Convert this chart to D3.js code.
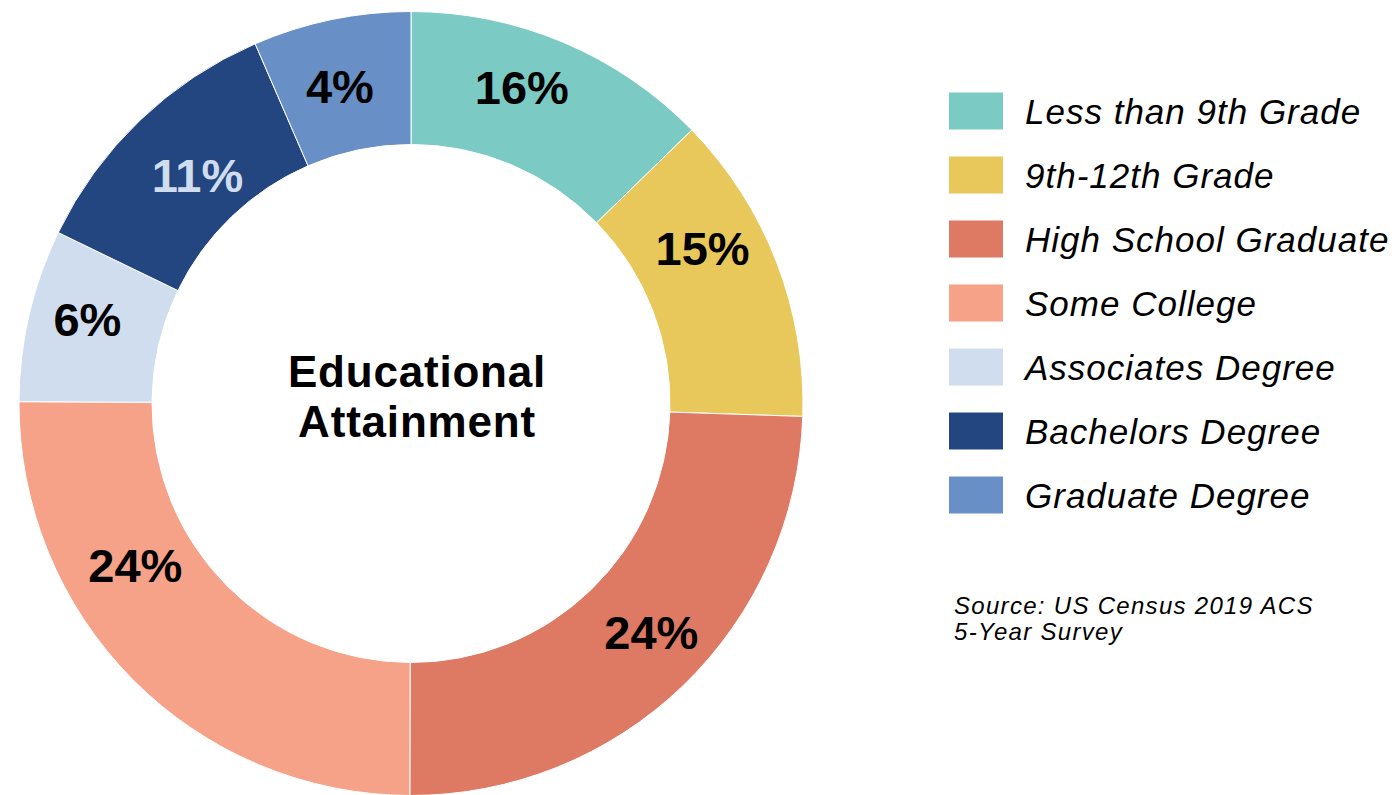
<!DOCTYPE html>
<html>
<head>
<meta charset="utf-8">
<script src="https://cdn.jsdelivr.net/npm/d3@7"></script>
<style>
  html, body { margin: 0; padding: 0; background: #ffffff; }
  svg { display: block; font-family: "Liberation Sans", Arial, sans-serif; }
</style>
</head>
<body>
<svg id="chart" width="1395" height="795"></svg>
<script>
// ---- data ----
const categories = ["Less than 9th Grade", "9th-12th Grade", "High School Graduate", "Some College", "Associates Degree", "Bachelors Degree", "Graduate Degree"];
const shares = [12.7, 12.8, 24.5, 25.0, 7.1, 11.3, 6.5];          // slice sizes as drawn
const shareLabels = ["16%", "15%", "24%", "24%", "6%", "11%", "4%"]; // printed labels
const colors = ["#7BCBC4", "#E8C85B", "#DE7A64", "#F6A288", "#D0DDEE", "#234681", "#6990C6"];
const labelColors = ["#000", "#000", "#000", "#000", "#000", "#D0DDEE", "#000"];
const titleLines = ["Educational", "Attainment"];
const sourceLines = ["Source: US Census 2019 ACS", "5-Year Survey"];

// ---- layout ----
const cx = 411, cy = 403.5, rOuter = 392, rInner = 259;
// label placement tweaks: [angle offset in degrees, radial offset px]
const labelNudge = [[-3.6, 10], [-6.9, 5], [-2.5, 6], [14.4, -6], [1.6, 9], [0.7, -13], [-0.9, 0]];

const svg = d3.select("#chart");
const g = svg.append("g").attr("transform", `translate(${cx},${cy})`);

const pie = d3.pie().sort(null).value(d => d).startAngle(0).endAngle(2 * Math.PI);
const arcs = pie(shares);
const arc = d3.arc().innerRadius(rInner).outerRadius(rOuter);

g.selectAll("path.slice")
  .data(arcs)
  .join("path")
  .attr("class", "slice")
  .attr("d", arc)
  .attr("fill", (d, i) => colors[i])
  .attr("stroke", "#ffffff")
  .attr("stroke-width", 1);

const rMid = (rInner + rOuter) / 2;
g.selectAll("text.pct")
  .data(arcs)
  .join("text")
  .attr("class", "pct")
  .attr("x", (d, i) => {
    const a = (d.startAngle + d.endAngle) / 2 + labelNudge[i][0] * Math.PI / 180;
    return Math.sin(a) * (rMid + labelNudge[i][1]);
  })
  .attr("y", (d, i) => {
    const a = (d.startAngle + d.endAngle) / 2 + labelNudge[i][0] * Math.PI / 180;
    return -Math.cos(a) * (rMid + labelNudge[i][1]);
  })
  .attr("dy", "0.36em")
  .attr("text-anchor", "middle")
  .attr("font-size", 47)
  .attr("font-weight", "bold")
  .attr("fill", (d, i) => labelColors[i])
  .text((d, i) => shareLabels[i]);

// centre title
g.selectAll("text.title")
  .data(titleLines)
  .join("text")
  .attr("class", "title")
  .attr("x", 6)
  .attr("y", (d, i) => -17 + i * 50)
  .attr("text-anchor", "middle")
  .attr("font-size", 44)
  .attr("font-weight", "bold")
  .attr("letter-spacing", "0.8px")
  .attr("fill", "#000")
  .text(d => d);

// legend
const legend = svg.append("g").attr("transform", "translate(949,111)");
const rowH = 64;
const items = legend.selectAll("g.item")
  .data(categories)
  .join("g")
  .attr("class", "item")
  .attr("transform", (d, i) => `translate(0,${i * rowH})`);
items.append("rect")
  .attr("x", 0).attr("y", -18.5)
  .attr("width", 54).attr("height", 37)
  .attr("fill", (d, i) => colors[i]);
items.append("text")
  .attr("x", 76).attr("y", 13.3)
  .attr("font-size", 35)
  .attr("font-style", "italic")
  .attr("letter-spacing", "1px")
  .attr("fill", "#000")
  .text(d => d);

// source (one text block, two lines)
const src = svg.append("text")
  .attr("class", "src")
  .attr("font-size", 24)
  .attr("font-style", "italic")
  .attr("letter-spacing", "1.3px")
  .attr("fill", "#000");
src.selectAll("tspan")
  .data(sourceLines)
  .join("tspan")
  .attr("x", 954)
  .attr("y", (d, i) => 614.3 + i * 25.7)
  .text(d => d);
</script>
</body>
</html>
